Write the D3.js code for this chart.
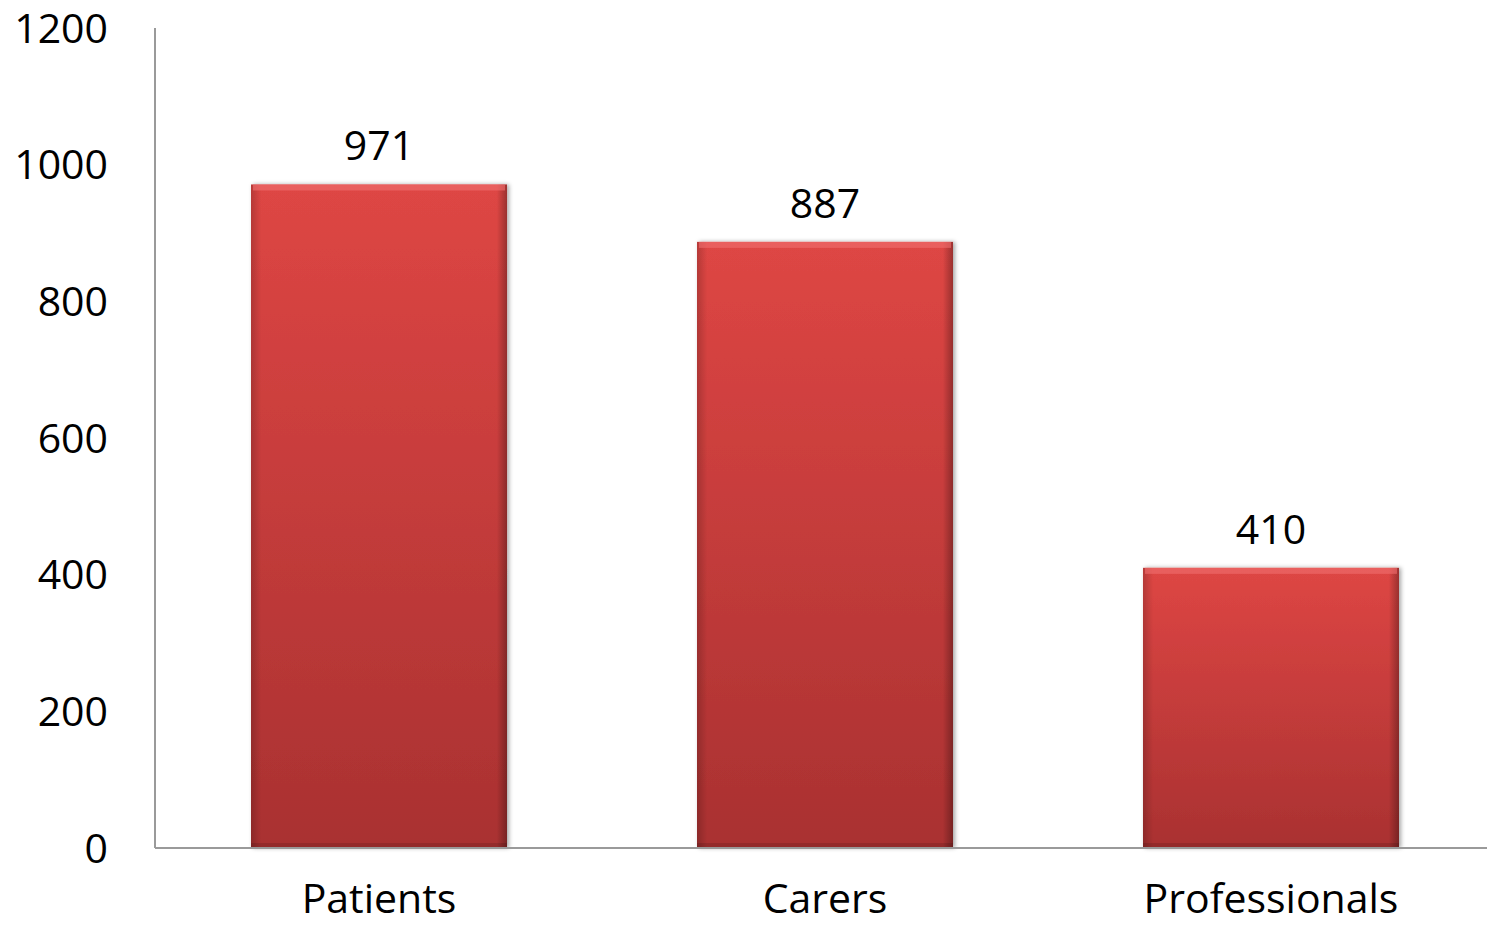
<!DOCTYPE html>
<html><head><meta charset="utf-8">
<script src="https://cdn.jsdelivr.net/npm/d3@7"></script>
<style>html,body{margin:0;padding:0;background:#fff;}svg{display:block;}</style>
</head><body>
<script>
const categories = ["Patients", "Carers", "Professionals"];
const values = [971, 887, 410];
const yTicks = [0, 200, 400, 600, 800, 1000, 1200];

const W = 1487, H = 928;
const m = {left: 155, right: 0, top: 28, bottom: 80};
const svg = d3.select("body").append("svg").attr("width", W).attr("height", H);
const font = "'Open Sans', 'Noto Sans', sans-serif";
const fs = 41;

const x = d3.scaleBand().domain(categories).range([m.left + 4, W + 4]).paddingInner(0.426).paddingOuter(0.2063);
const y = d3.scaleLinear().domain([0, 1200]).range([H - m.bottom, m.top]);

const defs = svg.append("defs");
const g = defs.append("linearGradient").attr("id", "barGrad").attr("x1", 0).attr("y1", 0).attr("x2", 0).attr("y2", 1);
g.append("stop").attr("offset", "0%").attr("stop-color", "#de4644");
g.append("stop").attr("offset", "100%").attr("stop-color", "#a93131");
const gs = defs.append("linearGradient").attr("id", "sideGrad").attr("x1", 0).attr("y1", 0).attr("x2", 1).attr("y2", 0);
gs.append("stop").attr("offset", "0%").attr("stop-color", "#000").attr("stop-opacity", 0.18);
gs.append("stop").attr("offset", "4%").attr("stop-color", "#000").attr("stop-opacity", 0);
gs.append("stop").attr("offset", "96%").attr("stop-color", "#000").attr("stop-opacity", 0);
gs.append("stop").attr("offset", "100%").attr("stop-color", "#000").attr("stop-opacity", 0.3);
const f = defs.append("filter").attr("id", "shadow").attr("x", "-10%").attr("y", "-10%").attr("width", "120%").attr("height", "120%");
f.append("feDropShadow").attr("dx", 2).attr("dy", 0).attr("stdDeviation", 2).attr("flood-color", "#000").attr("flood-opacity", 0.35);

svg.append("line").attr("x1", m.left).attr("x2", m.left).attr("y1", y(1200)).attr("y2", y(0))
  .attr("stroke", "#9a9a9a").attr("stroke-width", 2);

const bars = svg.append("g").selectAll("g").data(categories).join("g");
bars.append("rect")
  .attr("x", d => x(d)).attr("width", x.bandwidth())
  .attr("y", (d, i) => y(values[i])).attr("height", (d, i) => y(0) - y(values[i]))
  .attr("fill", "url(#barGrad)").attr("filter", "url(#shadow)");
bars.append("rect")
  .attr("x", d => x(d)).attr("width", x.bandwidth())
  .attr("y", (d, i) => y(values[i])).attr("height", (d, i) => y(0) - y(values[i]))
  .attr("fill", "url(#sideGrad)");
bars.append("rect")
  .attr("x", d => x(d) + 2).attr("width", x.bandwidth() - 4)
  .attr("y", (d, i) => y(values[i])).attr("height", 6)
  .attr("fill", "#f07070").attr("opacity", 0.6);
bars.append("rect")
  .attr("x", d => x(d)).attr("width", x.bandwidth())
  .attr("y", y(0) - 5).attr("height", 5)
  .attr("fill", "#000").attr("opacity", 0.12);

svg.append("line").attr("x1", m.left).attr("x2", W).attr("y1", y(0)).attr("y2", y(0))
  .attr("stroke", "#9a9a9a").attr("stroke-width", 2);

svg.append("g").selectAll("text").data(yTicks).join("text")
  .attr("x", 108).attr("y", d => y(d)).attr("dy", "0.36em")
  .attr("text-anchor", "end").attr("font-family", font).attr("font-size", fs).attr("fill", "#000")
  .text(d => d);

svg.append("g").selectAll("text").data(categories).join("text")
  .attr("x", d => x(d) + x.bandwidth() / 2).attr("y", 913)
  .attr("text-anchor", "middle").attr("font-family", font).attr("font-size", fs).attr("fill", "#000")
  .text(d => d);

svg.append("g").selectAll("text").data(categories).join("text")
  .attr("x", d => x(d) + x.bandwidth() / 2).attr("y", (d, i) => y(values[i]) - 24)
  .attr("text-anchor", "middle").attr("font-family", font).attr("font-size", fs).attr("fill", "#000")
  .text((d, i) => values[i]);
</script>
</body></html>
